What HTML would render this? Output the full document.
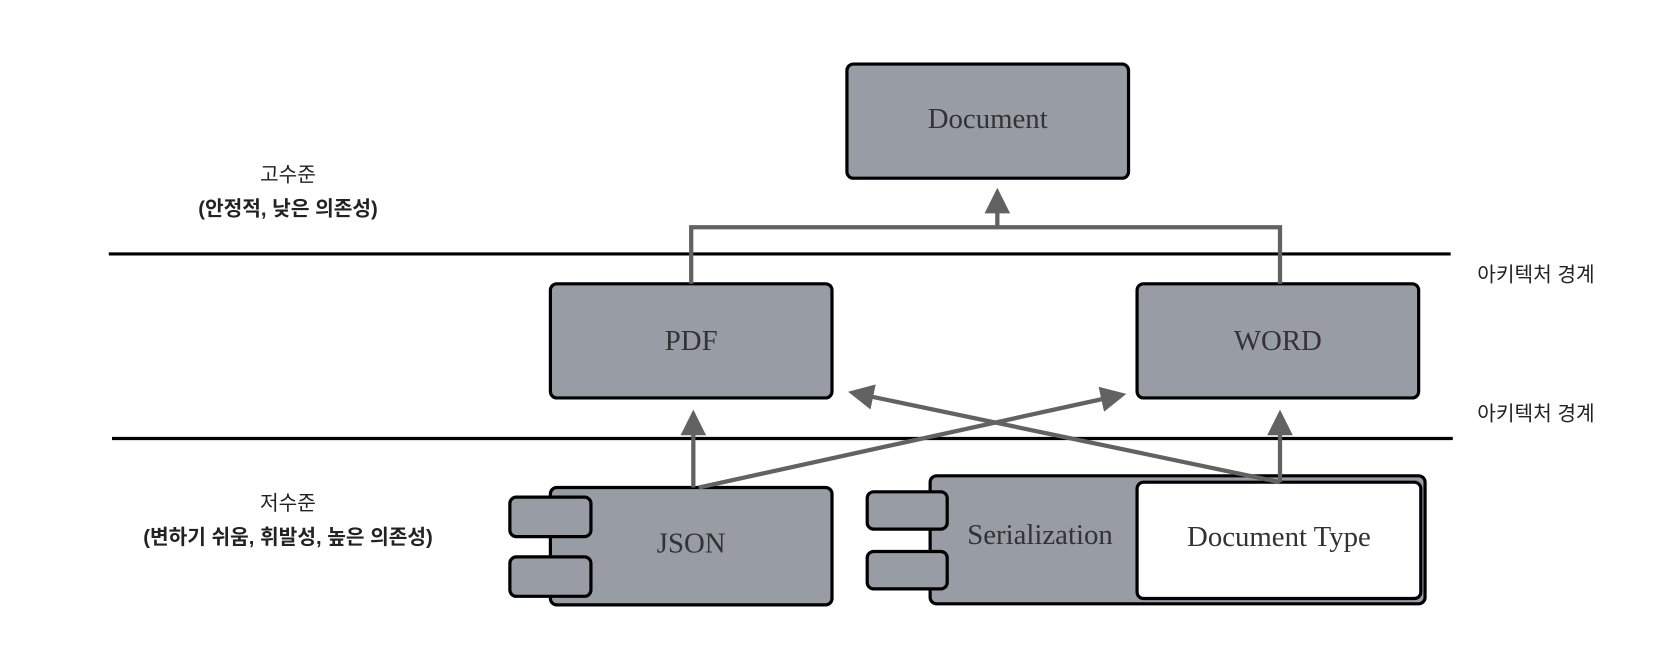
<!DOCTYPE html>
<html><head><meta charset="utf-8"><style>
html,body{margin:0;padding:0;background:#fff;}
svg{display:block;}
.b{fill:#979ca5;stroke:#000;stroke-width:3;}
.t{font-family:"Liberation Serif",serif;font-size:27px;fill:#333;text-anchor:middle;}
.k{font-family:"Liberation Sans","Noto Sans CJK KR",sans-serif;font-size:19px;fill:#222;text-anchor:middle;}
.c{stroke:#626262;stroke-width:4;fill:none;}
</style></head><body>
<svg width="1664" height="654" viewBox="0 0 1560 613" xmlns="http://www.w3.org/2000/svg">
<defs><marker id="a" markerWidth="6" markerHeight="6" refX="5" refY="3" orient="auto" markerUnits="strokeWidth"><path d="M0,0 L6,3 L0,6 z" fill="#626262"/></marker></defs>
<rect x="794" y="60" width="264" height="107" rx="6" class="b"/>
<text x="926" y="120" class="t">Document</text>
<line x1="102" y1="238" x2="1360" y2="238" stroke="#000" stroke-width="3"/>
<line x1="105" y1="411" x2="1362" y2="411" stroke="#000" stroke-width="3"/>
<text x="270" y="170" class="k">고수준</text>
<text x="270" y="202" class="k" font-weight="bold">(안정적, 낮은 의존성)</text>
<text x="270" y="478" class="k">저수준</text>
<text x="270" y="510" class="k" font-weight="bold">(변하기 쉬움, 휘발성, 높은 의존성)</text>
<text x="1440" y="264" class="k">아키텍처 경계</text>
<text x="1440" y="394" class="k">아키텍처 경계</text>
<rect x="516" y="266" width="264" height="107" rx="6" class="b"/>
<text x="648" y="328" class="t">PDF</text>
<rect x="1066" y="266" width="264" height="107" rx="6" class="b"/>
<text x="1198" y="328" class="t">WORD</text>
<rect x="516" y="457" width="264" height="110" rx="6" class="b"/>
<rect x="478" y="466" width="76" height="37" rx="6" class="b"/>
<rect x="478" y="522" width="76" height="37" rx="6" class="b"/>
<text x="648" y="518" class="t">JSON</text>
<rect x="872" y="446" width="464" height="120" rx="6" class="b"/>
<rect x="813" y="461" width="75" height="35" rx="6" class="b"/>
<rect x="813" y="517" width="75" height="35" rx="6" class="b"/>
<text x="975" y="510" class="t">Serialization</text>
<rect x="1066" y="452" width="266" height="109" rx="6" fill="#fff" stroke="#000" stroke-width="3"/>
<text x="1199" y="512" class="t" fill="#333">Document Type</text>
<polyline points="648,266 648,213 1200,213 1200,266" class="c"/>
<line x1="935" y1="213" x2="935" y2="180" class="c" marker-end="url(#a)"/>
<line x1="650" y1="457" x2="650" y2="388" class="c" marker-end="url(#a)"/>
<line x1="655" y1="457" x2="1052" y2="370" class="c" marker-end="url(#a)"/>
<line x1="1200" y1="452" x2="799" y2="368" class="c" marker-end="url(#a)"/>
<line x1="1200" y1="452" x2="1200" y2="388" class="c" marker-end="url(#a)"/>
</svg>
</body></html>
